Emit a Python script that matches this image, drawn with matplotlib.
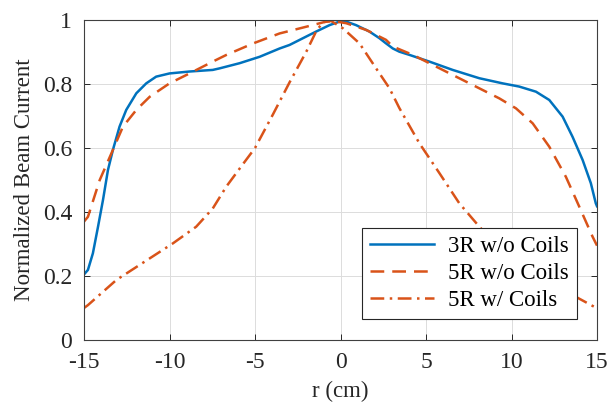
import matplotlib
matplotlib.use("Agg")
import matplotlib.pyplot as plt

plt.rcParams['font.family'] = ['Liberation Serif', 'DejaVu Serif']

# 3R w/o Coils
r_3r = [-15.0, -14.77, -14.48, -14.18, -13.89, -13.60, -13.31, -12.92, -12.53, -11.94,
        -11.36, -10.78, -10.0, -8.83, -7.47, -7.06, -5.9, -4.73, -3.56, -2.98, -2.2,
        -1.42, -0.64, -0.06, 0.33, 0.91, 1.69, 2.28, 2.66, 3.06, 3.44, 4.03, 5.2, 6.56,
        8.12, 9.48, 10.45, 11.43, 12.21, 12.99, 13.57, 14.16, 14.64, 14.93, 15.0]
i_3r = [0.205, 0.219, 0.271, 0.354, 0.4375, 0.531, 0.594, 0.667, 0.719, 0.771,
        0.802, 0.823, 0.833, 0.839, 0.844, 0.849, 0.865, 0.885, 0.911, 0.922, 0.943,
        0.964, 0.984, 0.995, 0.995, 0.984, 0.964, 0.943, 0.927, 0.911, 0.901, 0.891, 0.870, 0.844,
        0.818, 0.802, 0.792, 0.776, 0.75, 0.698, 0.635, 0.5625, 0.49, 0.427, 0.418]

# 5R w/o Coils
r_5r = [-15.0, -14.77, -14.08, -13.4, -12.72, -11.94, -11.16, -10.0, -8.83, -7.47,
        -6.67, -5.1, -3.56, -2.0, -0.84, -0.45, 0.33, 1.5, 2.66, 3.06, 4.23, 5.79,
        7.54, 9.29, 10.26, 11.24, 12.21, 13.18, 13.96, 14.74, 15.0]
i_5r = [0.37, 0.385, 0.5, 0.583, 0.667, 0.719, 0.76, 0.802, 0.833, 0.870,
        0.891, 0.927, 0.958, 0.979, 0.995, 0.997, 0.990, 0.969, 0.938, 0.917, 0.891, 0.849,
        0.802, 0.755, 0.724, 0.677, 0.604, 0.51, 0.417, 0.323, 0.295]

# 5R w/ Coils
r_5rc = [-15.0, -14.77, -13.11, -11.16, -9.8, -8.44, -7.47, -6.67, -5.7, -5.0,
         -3.95, -2.98, -2.0, -1.42, -1.03, -0.55, 0.14, 1.11, 2.08, 2.86, 3.44,
         4.61, 5.79, 6.95, 8.12, 9.0, 10.0, 11.0, 12.0, 13.0, 13.76, 14.83, 15.0]
i_5rc = [0.10, 0.109, 0.1875, 0.255, 0.302, 0.354, 0.411, 0.48, 0.55, 0.60,
         0.705, 0.805, 0.901, 0.965, 0.993, 0.997, 0.974, 0.927, 0.849, 0.787, 0.725,
         0.615, 0.521, 0.427, 0.354, 0.305, 0.262, 0.223, 0.19, 0.16, 0.135, 0.104, 0.10]

labels = ['3R w/o Coils', '5R w/o Coils', '5R w/ Coils']
xticks = [-15, -10, -5, 0, 5, 10, 15]
yticks = [0, 0.2, 0.4, 0.6, 0.8, 1]
yticklabels = ['0', '0.2', '0.4', '0.6', '0.8', '1']

blue = '#0072BD'
orange = '#D95319'

fig = plt.figure(figsize=(6.1, 4.07), dpi=100)
ax = fig.add_axes([84 / 610, 67 / 407, 513 / 610, 320 / 407])

ax.plot(r_3r, i_3r, color=blue, lw=1.8, label=labels[0])
ax.plot(r_5r, i_5r, color=orange, lw=1.8, dashes=(5.5, 3.2), label=labels[1])
ax.plot(r_5rc, i_5rc, color=orange, lw=1.8, dashes=(5.5, 2.2, 1.0, 2.2), label=labels[2])

ax.set_xlim(-15, 15)
ax.set_ylim(0, 1)
ax.set_xticks(xticks)
ax.set_xticklabels([str(t) for t in xticks])
ax.set_yticks(yticks)
ax.set_yticklabels(yticklabels)
ax.grid(True, color='#dcdcdc', lw=0.7)
ax.set_axisbelow(True)
ax.tick_params(direction='in', top=True, right=True, length=4, width=0.7,
               colors='#262626', labelsize=17, labelcolor='#262626', pad=8.5)
for s in ax.spines.values():
    s.set_color('#404040')
    s.set_linewidth(0.8)
ax.set_xlabel('r (cm)', fontsize=16.5, color='#262626')
ax.set_ylabel('Normalized Beam Current', fontsize=16.5, color='#262626')
ax.xaxis.set_label_coords(0.5, -0.128)
ax.yaxis.set_label_coords(-0.095, 0.5)

leg = ax.legend(loc='lower right', bbox_to_anchor=(0.961, 0.066), fontsize=16.5,
                frameon=True, fancybox=False, edgecolor='#262626', framealpha=1,
                handlelength=2.8, borderpad=0.35, labelspacing=0.25, handletextpad=0.6,
                borderaxespad=0)
leg.get_frame().set_linewidth(0.8)

fig.savefig('out.png', dpi=100)
